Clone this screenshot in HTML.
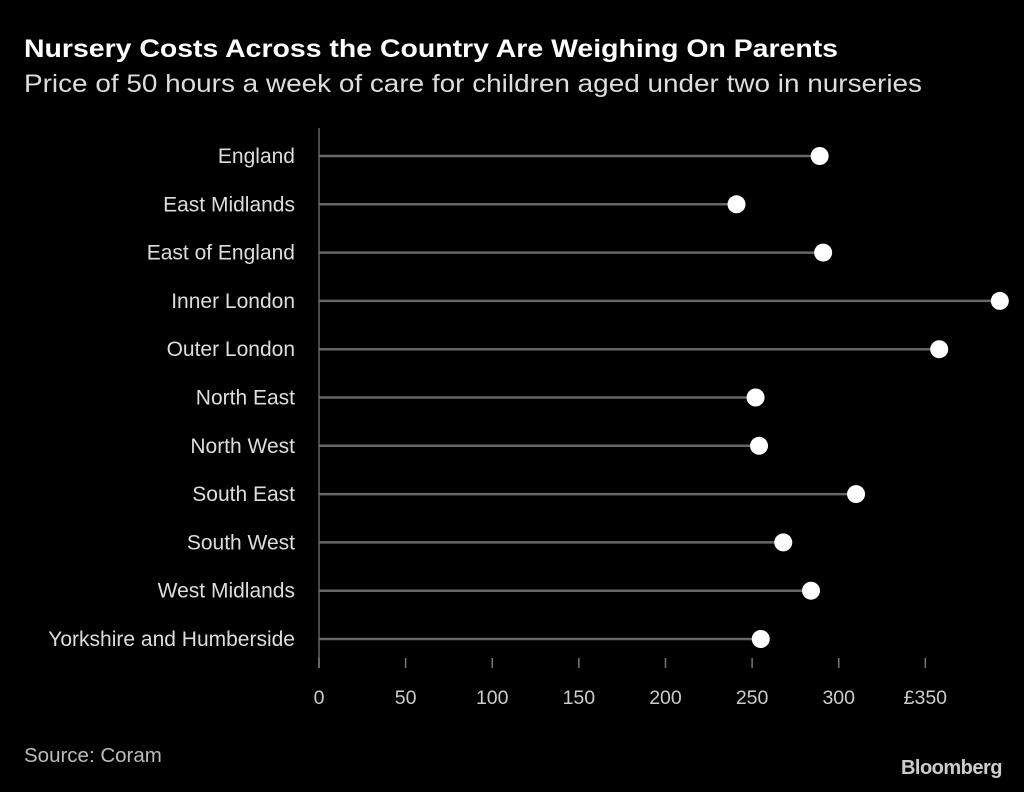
<!DOCTYPE html>
<html><head><meta charset="utf-8"><style>
body{margin:0;background:#000;width:1024px;height:787px;overflow:hidden;font-family:"Liberation Sans",sans-serif;color:#fff}
</style></head><body>
<svg width="1024" height="787">
<text x="24" y="57" font-size="25" font-weight="bold" fill="#fff" textLength="814" lengthAdjust="spacingAndGlyphs">Nursery Costs Across the Country Are Weighing On Parents</text>
<text x="24" y="92" font-size="25" fill="#ddd" textLength="898" lengthAdjust="spacingAndGlyphs">Price of 50 hours a week of care for children aged under two in nurseries</text>
<g id="plot"></g>
<text x="24" y="762" font-size="20.5" fill="#bbb">Source: Coram</text>
<text x="1002" y="774" font-size="20" font-weight="bold" fill="#ccc" text-anchor="end" letter-spacing="-0.5">Bloomberg</text>
</svg>
<script>
const categories=["England","East Midlands","East of England","Inner London","Outer London","North East","North West","South East","South West","West Midlands","Yorkshire and Humberside"];
const values=[289,241,291,393,358,252,254,310,268,284,255];
const ticks=[0,50,100,150,200,250,300,350];
const tickLabels=["0","50","100","150","200","250","300","£350"];
const ns="http://www.w3.org/2000/svg",g=document.getElementById("plot");
const x=v=>319+v*1.7324, y=i=>156+i*48.3;
function mk(t,a){const e=document.createElementNS(ns,t);for(const k in a)e.setAttribute(k,a[k]);g.appendChild(e);return e;}
let ax=mk("line",{x1:319,x2:319,y1:128,y2:668,stroke:"#666","stroke-width":1.5});


ticks.forEach((t,i)=>{
 let l=mk("line",{x1:x(t),x2:x(t),y1:658,y2:668,stroke:"#777","stroke-width":1.5});
 
 
 let tx=mk("text",{x:x(t),y:704,"font-size":19.5,fill:"#ccc","text-anchor":"middle"});tx.textContent=tickLabels[i];
 
 
});
categories.forEach((c,i)=>{
 let lb=mk("text",{x:295,y:y(i)+7,"font-size":21,fill:"#ddd","text-anchor":"end"});lb.textContent=c;
 
 
 let st=mk("line",{x1:319,x2:x(values[i]),y1:y(i),y2:y(i),stroke:"#666","stroke-width":2.5});
 
 
 let d=mk("circle",{cx:x(values[i]),cy:y(i),r:9,fill:"#fff"});
 
 
});
</script>
</body></html>
